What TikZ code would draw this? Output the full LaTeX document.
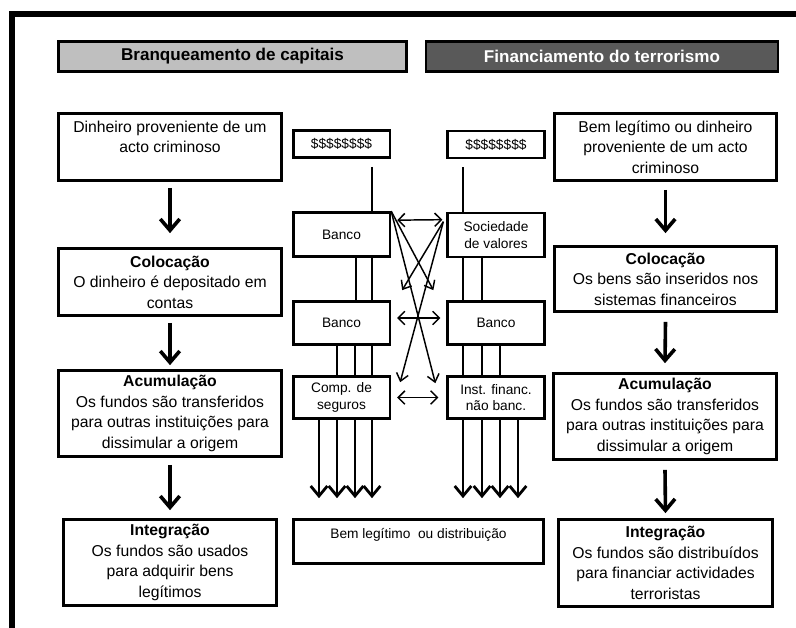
\documentclass[tikz,border=0pt]{standalone}
\usepackage{fontspec}
\setmainfont{Liberation Sans}
\usetikzlibrary{arrows.meta,calc}
\newcommand\bigf{\fontsize{11.8}{15.4}\selectfont}
\newcommand\smallf{\fontsize{10.3}{12.2}\selectfont}
\newcommand\headf{\fontsize{12.8}{15}\selectfont\bfseries}
\definecolor{hdrlight}{RGB}{191,191,191}
\definecolor{hdrdark}{RGB}{89,89,89}
\begin{document}
\begin{tikzpicture}[x=0.75pt,y=-0.75pt,
  bigbox/.style={draw, line width=2pt, inner sep=0pt, align=center, font=\bigf},
  smallbox/.style={draw, line width=2pt, inner sep=0pt, align=center, font=\smallf, minimum width=72.5pt},
  hdr/.style={draw, line width=2pt, inner sep=0pt, font=\headf, minimum height=22.5pt},
  link/.style={line width=2.1pt},
  flow/.style={line width=2.7pt, -{Straight Barb[length=8.5pt,width=14.5pt]}},
  drop/.style={line width=2.1pt, -{Straight Barb[length=7.5pt,width=12.5pt]}},
  dbl/.style={line width=1.1pt, {Straight Barb[length=5pt,width=10pt]}-{Straight Barb[length=5pt,width=10pt]}},
  cross/.style={line width=1.1pt, -{Straight Barb[length=5.5pt,width=9pt]}}
]
\clip (0,0) rectangle (796,628);
\fill[white] (0,0) rectangle (796,628);
% outer frame
\draw[line width=3.8pt] (12,640) -- (12,14) -- (810,14);

% headers
\node[hdr, fill=hdrlight, minimum width=261pt] (hL) at (232.5,56.5) {Branqueamento de capitais};
\node[hdr, fill=hdrdark, text=white, minimum width=264pt] (hR) at (602,56.5) {Financiamento do terrorismo};

% left column
\node[bigbox, minimum width=167.3pt, minimum height=50.3pt] (L1) at (170,147) {Dinheiro proveniente de um\\acto criminoso\\\mbox{}};
\node[bigbox, minimum width=167.3pt, minimum height=50.3pt] (L2) at (170,282) {\textbf{Colocação}\\O dinheiro é depositado em\\contas};
\node[bigbox, minimum width=167.3pt, minimum height=64.5pt] (L3) at (170,413.5) {\textbf{Acumulação}\\Os fundos são transferidos\\para outras instituições para\\dissimular a origem};
\node[bigbox, minimum width=159.8pt, minimum height=64.5pt] (L4) at (170,562.5) {\textbf{Integração}\\Os fundos são usados\\para adquirir bens\\legítimos};

% right column
\node[bigbox, minimum width=166.5pt, minimum height=50.3pt] (R1) at (665.5,147) {Bem legítimo ou dinheiro\\proveniente de um acto\\criminoso};
\node[bigbox, minimum width=166.5pt, minimum height=48.8pt] (R2) at (665.5,279) {\textbf{Colocação}\\Os bens são inseridos nos\\sistemas financeiros};
\node[bigbox, minimum width=167.3pt, minimum height=64.5pt] (R3) at (665,416.5) {\textbf{Acumulação}\\Os fundos são transferidos\\para outras instituições para\\dissimular a origem};
\node[bigbox, minimum width=160.5pt, minimum height=65.3pt] (R4) at (665.5,563) {\textbf{Integração}\\Os fundos são distribuídos\\para financiar actividades\\terroristas};

% middle left
\node[smallbox, minimum height=20.3pt] (dL) at (341.5,144) {\$\$\$\$\$\$\$\$};
\node[smallbox, minimum height=33pt] (bL1) at (341.5,234.5) {Banco};
\node[smallbox, minimum height=32.3pt] (bL2) at (341.5,323) {Banco};
\node[smallbox, minimum height=31.5pt] (cL) at (341.5,397.5) {Comp. de\\seguros};

% middle right
\node[smallbox, minimum height=20.3pt] (dR) at (496,144.5) {\$\$\$\$\$\$\$\$};
\node[smallbox, minimum height=33pt] (soc) at (496,235) {Sociedade\\de valores};
\node[smallbox, minimum height=32.3pt] (bR) at (496,323) {Banco};
\node[smallbox, minimum height=31.5pt] (inst) at (496,397.5) {Inst. financ.\\não banc.};

% bottom middle
\node[smallbox, minimum width=187.5pt, minimum height=33pt] (bem) at (418.5,541.5) {Bem legítimo \ ou distribuição\\\mbox{}};

% big flow arrows
\draw[flow] ($(L1.south)+(0,6)$) -- ($(L2.north)+(0,-14)$);
\draw[flow] ($(L2.south)+(0,6)$) -- ($(L3.north)+(0,-4)$);
\draw[flow] ($(L3.south)+(0,7)$) -- ($(L4.north)+(0,-8)$);
\draw[flow] ($(R1.south)+(0,8)$) -- ($(R2.north)+(0,-12)$);
\draw[flow] ($(R2.south)+(0,9)$) -- ($(R3.north)+(0,-9)$);
\draw[flow] ($(R3.south)+(0,9)$) -- ($(R4.north)+(0,-5)$);

% vertical links left
\draw[link] ($(372,0 |- dL.south)+(0,8)$) -- (372,0 |- bL1.north);
\foreach \xx in {356,372} \draw[link] (\xx,0 |- bL1.south) -- (\xx,0 |- bL2.north);
\foreach \xx in {337,355,372} \draw[link] (\xx,0 |- bL2.south) -- (\xx,0 |- cL.north);
\foreach \xx in {319,337,355,372} \draw[drop] (\xx,0 |- cL.south) -- ($(\xx,0 |- bem.north)+(0,-20)$);

% vertical links right
\draw[link] ($(463,0 |- dR.south)+(0,8)$) -- (463,0 |- soc.north);
\foreach \xx in {463,482} \draw[link] (\xx,0 |- soc.south) -- (\xx,0 |- bR.north);
\foreach \xx in {463,482,500} \draw[link] (\xx,0 |- bR.south) -- (\xx,0 |- inst.north);
\foreach \xx in {463,482,500,518} \draw[drop] (\xx,0 |- inst.south) -- ($(\xx,0 |- bem.north)+(0,-20)$);

% double arrows
\draw[dbl] ($(bL1.north east)+(6,9)$) -- ($(soc.north west)+(-4,8)$);
\draw[dbl] ($(bL2.east)+(6,-5)$) -- ($(bR.west)+(-6,-5)$);
\draw[dbl] ($(cL.east)+(6,0)$) -- ($(inst.west)+(-8,0)$);

% crossing lines
\draw[cross] (bL1.north east) -- ($(bR.north west)+(-13,-10)$);
\draw[cross] (bL1.north east) -- ($(inst.north west)+(-11,8)$);
\draw[cross] ($(soc.north west)+(-3,10)$) -- ($(bL2.north east)+(11,-10)$);
\draw[cross] ($(soc.north west)+(-3,10)$) -- ($(cL.north east)+(9,7)$);
\end{tikzpicture}
\end{document}
